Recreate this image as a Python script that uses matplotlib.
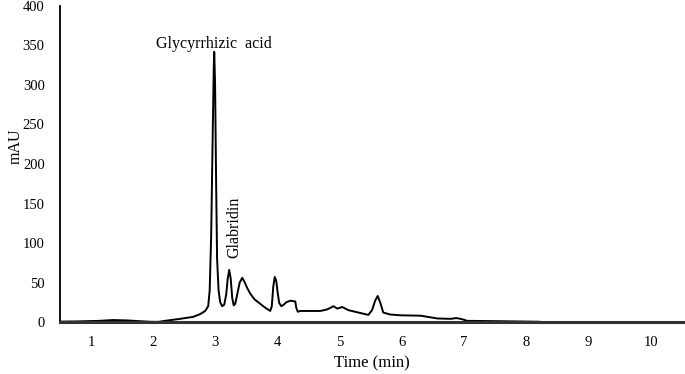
import matplotlib
matplotlib.use("Agg")
import matplotlib.pyplot as plt

plt.rcParams['font.family'] = ['Liberation Serif', 'DejaVu Serif']

time_min = [0.50, 0.80, 1.14, 1.35, 1.58, 1.95, 2.08, 2.19, 2.43, 2.64, 2.755, 2.836, 2.884,
            2.908, 2.932, 2.957, 2.973, 2.981, 2.995, 3.011, 3.027, 3.051, 3.077, 3.109,
            3.142, 3.174, 3.198, 3.222, 3.246, 3.271, 3.295, 3.319, 3.351, 3.391, 3.432,
            3.472, 3.512, 3.560, 3.625, 3.689, 3.786, 3.882, 3.907, 3.931, 3.955, 3.979,
            4.003, 4.027, 4.060, 4.100, 4.140, 4.205, 4.285, 4.301, 4.325, 4.365, 4.69,
            4.80, 4.90, 4.96, 5.04, 5.14, 5.30, 5.46, 5.52, 5.57, 5.61, 5.65, 5.70, 5.81,
            5.98, 6.30, 6.57, 6.78, 6.88, 6.97, 7.05, 7.59, 8.23]
absorbance = [0.5, 0.8, 1.5, 2.5, 2.0, 0.3, 0.2, 1.5, 4.0, 6.5, 10, 14, 20,
              40, 110, 240, 320, 342, 300, 180, 80, 40, 25, 20,
              22, 35, 55, 66, 55, 30, 21, 23, 35, 50, 56,
              50, 43, 36, 29, 25, 19, 14, 20, 45, 57, 52,
              36, 24, 20, 22, 25, 27, 26, 18, 13, 14, 14,
              16, 20, 17, 19, 15, 12, 9, 15, 27, 33, 25, 12, 9.5,
              8.5, 8, 4.5, 4, 5, 3.5, 1.5, 1, 0.3]

x_ticks = [1, 2, 3, 4, 5, 6, 7, 8, 9, 10]
y_ticks = [0, 50, 100, 150, 200, 250, 300, 350, 400]

fig = plt.figure(figsize=(6.85, 3.74), dpi=100)
ax = fig.add_axes([0.0876, 0.139, 0.912, 0.845])
ax.plot(time_min, absorbance, color='black', lw=1.4,
        solid_joinstyle='round', solid_capstyle='round')

ax.set_xlim(0.5, 10.55)
ax.set_ylim(0, 400)
ax.set_xticks(x_ticks)
ax.set_yticks(y_ticks)
ax.tick_params(axis='both', length=0, labelsize=10.5)
ax.tick_params(axis='y', pad=11)
ax.tick_params(axis='x', pad=10)

for s in ['top', 'right']:
    ax.spines[s].set_visible(False)
ax.spines['left'].set_linewidth(1.3)
ax.spines['bottom'].set_linewidth(2.2)
ax.spines['bottom'].set_color('#333333')

ax.set_xlabel('Time (min)', fontsize=12, labelpad=5)
ax.set_ylabel('mAU', fontsize=11.5)
ax.yaxis.set_label_coords(-0.058, 0.557)

ax.text(2.98, 342, 'Glycyrrhizic  acid', ha='center', va='bottom', fontsize=11.5)
ax.text(3.31, 81, 'Glabridin', ha='center', va='bottom', rotation=90, fontsize=11.5)

fig.savefig('out.png', dpi=100)
